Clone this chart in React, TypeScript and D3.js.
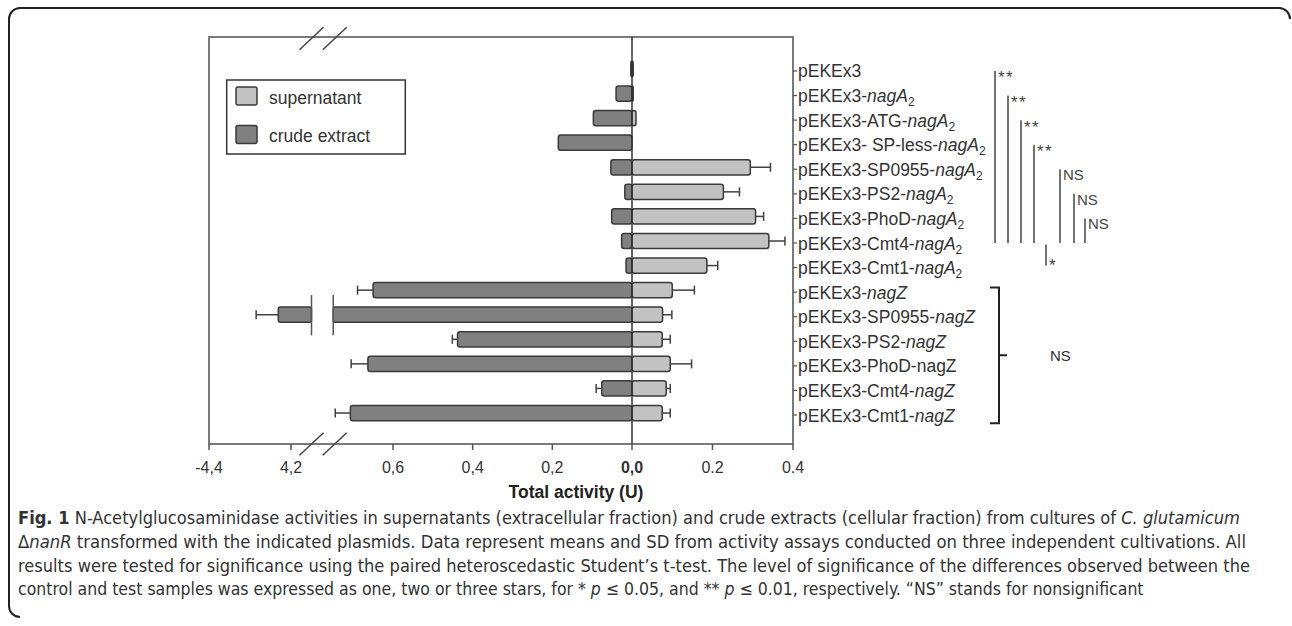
import React from "react";
import * as d3 from "d3";

const categories = [
  "pEKEx3", "nagA2", "ATG-nagA2", "SP-less-nagA2", "SP0955-nagA2", "PS2-nagA2",
  "PhoD-nagA2", "Cmt4-nagA2", "Cmt1-nagA2", "nagZ", "SP0955-nagZ", "PS2-nagZ",
  "PhoD-nagZ", "Cmt4-nagZ", "Cmt1-nagZ",
];
const labelPrefix = [
  "pEKEx3", "pEKEx3-", "pEKEx3-ATG-", "pEKEx3- SP-less-", "pEKEx3-SP0955-", "pEKEx3-PS2-",
  "pEKEx3-PhoD-", "pEKEx3-Cmt4-", "pEKEx3-Cmt1-", "pEKEx3-", "pEKEx3-SP0955-", "pEKEx3-PS2-",
  "pEKEx3-PhoD-nagZ", "pEKEx3-Cmt4-", "pEKEx3-Cmt1-",
];
const labelGene = [
  "", "nagA", "nagA", "nagA", "nagA", "nagA", "nagA", "nagA", "nagA",
  "nagZ", "nagZ", "nagZ", "", "nagZ", "nagZ",
];
const labelSub = [
  "", "2", "2", "2", "2", "2", "2", "2", "2", "", "", "", "", "", "",
];

const supernatant = [0.003, 0.003, 0.01, 0.0, 0.294, 0.227, 0.307, 0.34, 0.186, 0.1, 0.076, 0.075, 0.095, 0.085, 0.075];
const supernatantSD = [0, 0, 0, 0, 0.05, 0.04, 0.02, 0.04, 0.027, 0.055, 0.023, 0.02, 0.053, 0.01, 0.02];
const crude = [0.003, 0.04, 0.097, 0.185, 0.053, 0.018, 0.051, 0.026, 0.015, 0.65, 4.231, 0.438, 0.663, 0.076, 0.707];
const crudeSD = [0, 0, 0, 0, 0, 0, 0, 0, 0, 0.039, 0.054, 0.013, 0.042, 0.014, 0.038];

const ticksMain = [0, 0.2, 0.4, 0.6];
const ticksMainLabels = ["0,0", "0,2", "0,4", "0,6"];
const ticksHigh = [4.2, 4.4];
const ticksHighLabels = ["4,2", "-4,4"];
const ticksRight = [0.2, 0.4];
const ticksRightLabels = ["0.2", "0.4"];

const sigFrom = [0, 1, 2, 3, 4, 5, 6];
const sigTo = [7, 7, 7, 7, 7, 7, 7];
const sigLabels = ["**", "**", "**", "**", "NS", "NS", "NS"];
const sigStarFrom = 7;
const sigStarTo = 8;
const sigStarLabel = "*";
const groupFrom = 9;
const groupTo = 14;
const groupLabel = "NS";

const legendLabels = ["supernatant", "crude extract"];

const W = 1292;
const H = 626;
const FONT = "'Liberation Sans', Arial, sans-serif";
const CAP_FONT = "'DejaVu Sans Condensed', 'Liberation Sans', sans-serif";
const SUPER_FILL = "#c2c2c2";
const CRUDE_FILL = "#808080";
const BAR_STROKE = "#3a3a3a";
const TEXT = "#333";

const plotL = 209, plotR = 793, plotT = 37, plotB = 444;
const BREAK_MAIN = 0.75;
const BREAK_HIGH = 4.15;

export default function App() {
  const xMain = d3.scaleLinear().domain([0, 0.6]).range([632, 393]);
  const xHigh = d3.scaleLinear().domain([4.2, 4.4]).range([291, 209]);
  const xRight = d3.scaleLinear().domain([0, 0.4]).range([632, 793]);
  const y = d3.scaleBand<string>().domain(categories).range([56.7, 425.3]).paddingInner(0.38).paddingOuter(0.19);
  const bw = y.bandwidth();
  const x0 = xMain(0);
  const crudeX = (v: number) => (v <= BREAK_MAIN ? xMain(v) : xHigh(v));
  const cy = (i: number) => (y(categories[i]) as number) + bw / 2;
  const breakA = xHigh(BREAK_HIGH);
  const breakB = xMain(BREAK_MAIN);

  const errBar = (xa: number, xb: number, yc: number, key: string) => (
    <g key={key} stroke="#404040" strokeWidth={1.5}>
      <line x1={xa} x2={xb} y1={yc} y2={yc} />
      <line x1={xb} x2={xb} y1={yc - 4.5} y2={yc + 4.5} />
    </g>
  );

  const breakMark = (cx: number, cyy: number, key: string) => (
    <line key={key} x1={cx - 12} y1={cyy + 11.3} x2={cx + 12} y2={cyy - 11.3} stroke="#444" strokeWidth={1.5} />
  );

  const sigX = [995, 1008, 1021, 1034, 1060, 1074, 1085];

  return (
    <svg width={W} height={H} style={{ position: "absolute", left: 0, top: 0 }} fontFamily={FONT}>
      <rect x={0} y={0} width={W} height={H} fill="#fff" />
      {/* outer figure frame */}
      <path d="M 20 617 A 11 11 0 0 1 9 606 L 9 19 A 11 11 0 0 1 20 8 L 1279 8 A 11 11 0 0 1 1290 19" fill="none" stroke="#222" strokeWidth={2} />

      {/* plot frame */}
      <rect x={plotL} y={plotT} width={plotR - plotL} height={plotB - plotT} fill="none" stroke="#7a7a7a" strokeWidth={2} />

      {/* crude extract bars */}
      {crude.map((v, i) => {
        const yy = y(categories[i]) as number;
        const yc = yy + bw / 2;
        if (v <= BREAK_MAIN) {
          const xl = xMain(v);
          return (
            <g key={"c" + i}>
              <rect x={xl} y={yy} width={Math.max(x0 - xl, 0.8)} height={bw} rx={2.5} fill={CRUDE_FILL} stroke={BAR_STROKE} strokeWidth={1.5} />
              {crudeSD[i] > 0 && errBar(xl, crudeX(v + crudeSD[i]), yc, "ce" + i)}
            </g>
          );
        }
        const xl = xHigh(v);
        return (
          <g key={"c" + i}>
            <rect x={xl} y={yy} width={breakA - xl} height={bw} rx={2} fill={CRUDE_FILL} stroke={BAR_STROKE} strokeWidth={1.5} />
            <rect x={breakB} y={yy} width={x0 - breakB} height={bw} rx={2} fill={CRUDE_FILL} stroke={BAR_STROKE} strokeWidth={1.5} />
            <line x1={breakA} x2={breakA} y1={yy - 12} y2={yy + bw + 13} stroke="#555" strokeWidth={1.5} />
            <line x1={breakB} x2={breakB} y1={yy - 12} y2={yy + bw + 13} stroke="#555" strokeWidth={1.5} />
            {errBar(xl, crudeX(v + crudeSD[i]), yc, "ce" + i)}
          </g>
        );
      })}

      {/* supernatant bars */}
      {supernatant.map((v, i) => {
        const yy = y(categories[i]) as number;
        const yc = yy + bw / 2;
        if (v <= 0) return null;
        const xr = xRight(v);
        return (
          <g key={"s" + i}>
            <rect x={x0} y={yy} width={Math.max(xr - x0, 0.8)} height={bw} rx={2.5} fill={SUPER_FILL} stroke={BAR_STROKE} strokeWidth={1.5} />
            {supernatantSD[i] > 0 && errBar(xr, xRight(v + supernatantSD[i]), yc, "se" + i)}
          </g>
        );
      })}

      {/* zero line */}
      <line x1={x0} x2={x0} y1={plotT} y2={plotB} stroke="#333" strokeWidth={1.5} />

      {/* break marks */}
      {breakMark(breakA, plotT + 1.5, "bt1")}
      {breakMark(breakB + 1.5, plotT + 1.5, "bt2")}
      {breakMark(breakA, plotB, "bb1")}
      {breakMark(breakB + 1.5, plotB, "bb2")}

      {/* x axis ticks & labels */}
      {ticksHigh.map((t, i) => (
        <g key={"th" + i}>
          <line x1={xHigh(t)} x2={xHigh(t)} y1={plotB} y2={plotB + 6} stroke="#555" strokeWidth={1.5} />
          <text x={xHigh(t)} y={473} textAnchor="middle" fontSize={16} fill={TEXT}>{ticksHighLabels[i]}</text>
        </g>
      ))}
      {ticksMain.map((t, i) => (
        <g key={"tm" + i}>
          <line x1={xMain(t)} x2={xMain(t)} y1={plotB} y2={plotB + 6} stroke="#555" strokeWidth={1.5} />
          <text x={xMain(t)} y={473} textAnchor="middle" fontSize={16} fill={TEXT} fontWeight={t === 0 ? "bold" : "normal"}>{ticksMainLabels[i]}</text>
        </g>
      ))}
      {ticksRight.map((t, i) => (
        <g key={"tr" + i}>
          <line x1={xRight(t)} x2={xRight(t)} y1={plotB} y2={plotB + 6} stroke="#555" strokeWidth={1.5} />
          <text x={xRight(t)} y={473} textAnchor="middle" fontSize={16} fill={TEXT}>{ticksRightLabels[i]}</text>
        </g>
      ))}
      <text x={576} y={498} textAnchor="middle" fontSize={17.5} fontWeight="bold" fill="#222">Total activity (U)</text>

      {/* category labels on right axis */}
      {categories.map((c, i) => {
        const yc = cy(i);
        return (
          <g key={"l" + i}>
            <line x1={plotR} x2={plotR + 4} y1={yc + 2} y2={yc + 2} stroke="#555" strokeWidth={1.2} />
            <text x={plotR + 5} y={yc + 8.5} fontSize={17.5} fill={TEXT}>
              {labelPrefix[i]}
              {labelGene[i] && <tspan fontStyle="italic">{labelGene[i]}</tspan>}
              {labelSub[i] && <tspan fontSize={12} dy={4}>{labelSub[i]}</tspan>}
            </text>
          </g>
        );
      })}

      {/* legend */}
      <rect x={226.7} y={80} width={178.6} height={74} fill="#fff" stroke="#333" strokeWidth={1.5} />
      <rect x={236} y={87} width={21} height={18} rx={2} fill={SUPER_FILL} stroke={BAR_STROKE} strokeWidth={1.5} />
      <text x={269} y={104} fontSize={17.5} fill={TEXT}>{legendLabels[0]}</text>
      <rect x={236} y={125.5} width={21} height={18} rx={2} fill={CRUDE_FILL} stroke={BAR_STROKE} strokeWidth={1.5} />
      <text x={269} y={141.7} fontSize={17.5} fill={TEXT}>{legendLabels[1]}</text>

      {/* significance lines */}
      {sigFrom.map((f, i) => {
        const top = cy(f) + 2;
        const bot = cy(sigTo[i]) + 2;
        const isStar = sigLabels[i].startsWith("*");
        return (
          <g key={"sig" + i}>
            <line x1={sigX[i]} x2={sigX[i]} y1={top} y2={bot} stroke="#444" strokeWidth={1.5} />
            <text x={sigX[i] + 3} y={isStar ? top + 12.5 : top + 11} fontSize={isStar ? 17 : 15} letterSpacing={isStar ? 1.5 : 0} fill="#444">{sigLabels[i]}</text>
          </g>
        );
      })}
      <line x1={1046} x2={1046} y1={cy(sigStarFrom) + 3.5} y2={cy(sigStarTo) + 0} stroke="#444" strokeWidth={1.5} />
      <text x={1049} y={cy(sigStarTo) + 5} fontSize={17} fill="#444">{sigStarLabel}</text>

      {/* nagZ group bracket */}
      {(() => {
        const t = (y(categories[groupFrom]) as number) + 5;
        const b = (y(categories[groupTo]) as number) + bw + 2.5;
        const m = (t + b) / 2;
        return (
          <g>
            <path d={`M 990 ${t} L 999 ${t} L 999 ${b} L 990 ${b} M 999 ${m} L 1007 ${m}`} fill="none" stroke="#222" strokeWidth={2} />
            <text x={1050} y={m + 6} fontSize={15} fill="#333">{groupLabel}</text>
          </g>
        );
      })()}

      {/* caption */}
      <g fontFamily={CAP_FONT} fontSize={17.5} fill="#333">
        <text x={18} y={524} textLength={1222} lengthAdjust="spacingAndGlyphs">
          <tspan fontWeight="bold">Fig. 1</tspan> N-Acetylglucosaminidase activities in supernatants (extracellular fraction) and crude extracts (cellular fraction) from cultures of <tspan fontStyle="italic">C. glutamicum</tspan>
        </text>
        <text x={18} y={548} textLength={1228} lengthAdjust="spacingAndGlyphs">
          Δ<tspan fontStyle="italic">nanR</tspan> transformed with the indicated plasmids. Data represent means and SD from activity assays conducted on three independent cultivations. All
        </text>
        <text x={18} y={571.5} textLength={1232} lengthAdjust="spacingAndGlyphs">
          results were tested for significance using the paired heteroscedastic Student’s t-test. The level of significance of the differences observed between the
        </text>
        <text x={18} y={595}>
          control and test samples was expressed as one, two or three stars, for * <tspan fontStyle="italic">p</tspan> ≤ 0.05, and ** <tspan fontStyle="italic">p</tspan> ≤ 0.01, respectively. “NS” stands for nonsignificant
        </text>
      </g>
    </svg>
  );
}
